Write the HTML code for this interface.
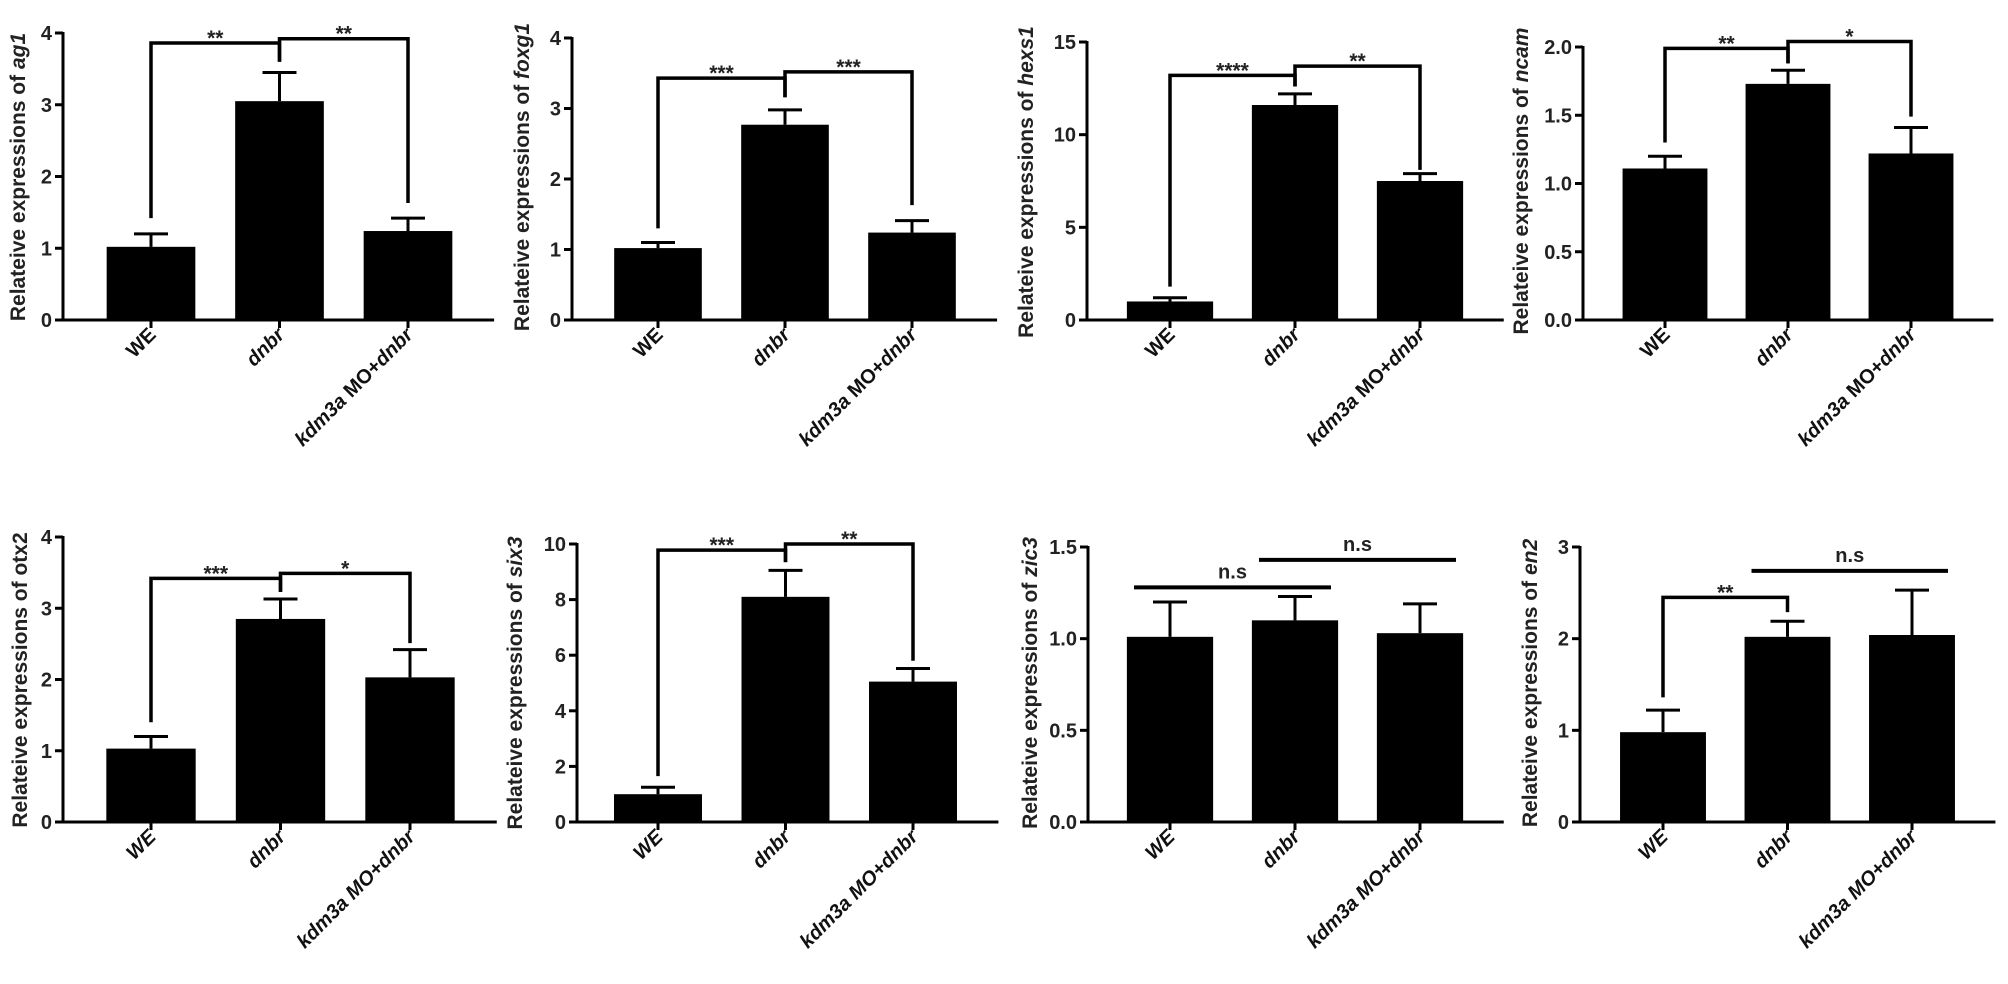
<!DOCTYPE html>
<html><head><meta charset="utf-8">
<style>
html,body{margin:0;padding:0;background:#fff;}
svg{display:block;font-family:"Liberation Sans",Arial,sans-serif;}
</style></head>
<body>
<svg id="fig" width="2008" height="984" viewBox="0 0 2008 984" xmlns="http://www.w3.org/2000/svg"></svg>
<script>
// ---- data ----
const categories = ["WE", "dnbr", "kdm3a MO+dnbr"];
const ag1Means = [1.02, 3.05, 1.24];   const ag1Errs = [0.18, 0.40, 0.18];
const foxg1Means = [1.02, 2.77, 1.24]; const foxg1Errs = [0.08, 0.21, 0.17];
const hexs1Means = [1.0, 11.6, 7.5];   const hexs1Errs = [0.2, 0.6, 0.4];
const ncamMeans = [1.11, 1.73, 1.22];  const ncamErrs = [0.09, 0.10, 0.19];
const otx2Means = [1.03, 2.85, 2.03];  const otx2Errs = [0.17, 0.28, 0.39];
const six3Means = [1.0, 8.1, 5.05];    const six3Errs = [0.25, 0.95, 0.47];
const zic3Means = [1.01, 1.10, 1.03];  const zic3Errs = [0.19, 0.13, 0.16];
const en2Means = [0.98, 2.02, 2.04];   const en2Errs = [0.24, 0.17, 0.49];
const ag1Ticks = ["0","1","2","3","4"];
const foxg1Ticks = ["0","1","2","3","4"];
const hexs1Ticks = ["0","5","10","15"];
const ncamTicks = ["0.0","0.5","1.0","1.5","2.0"];
const otx2Ticks = ["0","1","2","3","4"];
const six3Ticks = ["0","2","4","6","8","10"];
const zic3Ticks = ["0.0","0.5","1.0","1.5"];
const en2Ticks = ["0","1","2","3"];
// significance brackets: [fromIdx, toIdx, level, dropFrom, dropTo, label]
const ag1Sig = [[0,1,3.86,1.42,3.6,"**"],[1,2,3.92,3.6,1.63,"**"]];
const foxg1Sig = [[0,1,3.43,1.3,3.16,"***"],[1,2,3.52,3.16,1.63,"***"]];
const hexs1Sig = [[0,1,13.2,1.8,12.6,"****"],[1,2,13.7,12.6,8.1,"**"]];
const ncamSig = [[0,1,1.99,1.3,1.88,"**"],[1,2,2.04,1.88,1.49,"*"]];
const otx2Sig = [[0,1,3.42,1.4,3.23,"***"],[1,2,3.49,3.23,2.51,"*"]];
const six3Sig = [[0,1,9.78,1.65,9.35,"***"],[1,2,10.0,9.35,5.8,"**"]];
const zic3Sig = [];
const en2Sig = [[0,1,2.45,1.36,2.29,"**"]];
// n.s lines: [fromIdx, toIdx, level]
const zic3Ns = [[0,1,1.28],[1,2,1.43]];
const en2Ns = [[1,2,2.74]];

// ---- layout (pixels) ----
const panels = [
 {gene:"ag1",  gi:true, row:0, means:ag1Means, errs:ag1Errs, ticks:ag1Ticks, max:4, sig:ag1Sig, ns:[], x0:63, y0:320, yTop:33, off:88, band:128.5, tx:25, ty:177},
 {gene:"foxg1",gi:true, row:0, means:foxg1Means, errs:foxg1Errs, ticks:foxg1Ticks, max:4, sig:foxg1Sig, ns:[], x0:572, y0:320, yTop:38, off:86, band:127, tx:529, ty:177},
 {gene:"hexs1",gi:true, row:0, means:hexs1Means, errs:hexs1Errs, ticks:hexs1Ticks, max:15, sig:hexs1Sig, ns:[], x0:1087, y0:320, yTop:42, off:83, band:125, tx:1033, ty:182},
 {gene:"ncam", gi:true, row:0, means:ncamMeans, errs:ncamErrs, ticks:ncamTicks, max:2, sig:ncamSig, ns:[], x0:1583, y0:320, yTop:47, off:82, band:123, tx:1528, ty:181},
 {gene:"otx2", gi:false,row:1, means:otx2Means, errs:otx2Errs, ticks:otx2Ticks, max:4, sig:otx2Sig, ns:[], x0:63, y0:822, yTop:537, off:88, band:129.5, tx:27, ty:680},
 {gene:"six3", gi:true, row:1, means:six3Means, errs:six3Errs, ticks:six3Ticks, max:10, sig:six3Sig, ns:[], x0:577, y0:822, yTop:544, off:81, band:127.5, tx:522, ty:683},
 {gene:"zic3", gi:true, row:1, means:zic3Means, errs:zic3Errs, ticks:zic3Ticks, max:1.5, sig:zic3Sig, ns:zic3Ns, x0:1088, y0:822, yTop:547, off:82, band:125, tx:1037, ty:683},
 {gene:"en2",  gi:true, row:1, means:en2Means, errs:en2Errs, ticks:en2Ticks, max:3, sig:en2Sig, ns:en2Ns, x0:1580, y0:822, yTop:547, off:83, band:124.5, tx:1537, ty:683}
];

const NS = "http://www.w3.org/2000/svg";
const svg = document.getElementById("fig");
function mk(tag, attrs, parent){
  const e = document.createElementNS(NS, tag);
  for (const k in attrs) e.setAttribute(k, attrs[k]);
  (parent||svg).appendChild(e);
  return e;
}

panels.forEach(function(p){
  const g = mk("g", {});
  
  
  const yS = function(v){ return p.y0 - (v / p.max) * (p.y0 - p.yTop); };
  const xS = function(i){ return p.x0 + p.off + p.band * i; };
  const barW = p.band * 0.69;
  const xEnd = p.x0 + p.off + p.band * 2 + p.band * 0.67;

  // bars + error bars
  p.means.forEach(function(m, i){
    const cx = xS(i);
    const b = mk("rect", {x: cx - barW/2, y: yS(m), width: barW, height: p.y0 - yS(m), fill: "#000"}, g);
    
    
    const top = yS(m + p.errs[i]);
    const el = mk("path", {d: "M" + cx + " " + yS(m) + "V" + top + "M" + (cx - 17) + " " + top + "H" + (cx + 17), stroke: "#000", "stroke-width": 3, fill: "none"}, g);
    
    
  });

  // axes
  const ya = mk("line", {x1: p.x0, y1: p.yTop - 1, x2: p.x0, y2: p.y0, stroke: "#000", "stroke-width": 3}, g);
  
  
  const xa = mk("line", {x1: p.x0 - 1, y1: p.y0, x2: xEnd, y2: p.y0, stroke: "#000", "stroke-width": 3}, g);
  
  

  // y ticks
  p.ticks.forEach(function(t){
    const y = yS(parseFloat(t));
    mk("line", {x1: p.x0 - 8, y1: y, x2: p.x0, y2: y, stroke: "#000", "stroke-width": 3}, g);
    const tl = mk("text", {x: p.x0 - 11, y: y + 7, "text-anchor": "end", "font-size": 20, "font-weight": "bold", fill: "#222"}, g);
    tl.textContent = t;
    
    
  });

  // x ticks + labels
  categories.forEach(function(c, i){
    const cx = xS(i);
    mk("line", {x1: cx, y1: p.y0, x2: cx, y2: p.y0 + 8, stroke: "#000", "stroke-width": 3}, g);
    const lx = cx + 6, ly = p.y0 + 16;
    const t = mk("text", {x: lx, y: ly, "text-anchor": "end", "font-size": 20, "font-weight": "bold", fill: "#111", transform: "rotate(-45 " + lx + " " + ly + ")"}, g);
    
    
    const allIt = p.row === 1;
    if (i === 2) {
      const s1 = mk("tspan", {"font-style": "italic"}, t); s1.textContent = "kdm3a";
      const s2 = mk("tspan", {"font-style": allIt ? "italic" : "normal"}, t); s2.textContent = " MO+";
      const s3 = mk("tspan", {"font-style": "italic"}, t); s3.textContent = "dnbr";
    } else {
      t.textContent = c;
      if (i === 1 || allIt) t.setAttribute("font-style", "italic");
    }
  });

  // y title
  const yt = mk("text", {x: p.tx, y: p.ty, "text-anchor": "middle", "font-size": 21, "font-weight": "bold", fill: "#222", transform: "rotate(-90 " + p.tx + " " + p.ty + ")"}, g);
  
  
  const a = mk("tspan", {}, yt); a.textContent = "Relateive expressions of ";
  const b2 = mk("tspan", {"font-style": p.gi ? "italic" : "normal"}, yt); b2.textContent = p.gene;

  // significance brackets
  p.sig.forEach(function(s){
    const xa1 = xS(s[0]), xb1 = xS(s[1]), y = yS(s[2]);
    const br = mk("path", {d: "M" + xa1 + " " + yS(s[3]) + "V" + y + "H" + xb1 + "V" + yS(s[4]), stroke: "#000", "stroke-width": 3.5, fill: "none"}, g);
    
    
    const st = mk("text", {x: (xa1 + xb1) / 2, y: y + 2, "text-anchor": "middle", "font-size": 21, "font-weight": "bold", fill: "#222"}, g);
    st.textContent = s[5];
    
    
  });

  // n.s lines
  p.ns.forEach(function(s){
    const xa1 = xS(s[0]) - 36, xb1 = xS(s[1]) + 36, y = yS(s[2]);
    const ln = mk("line", {x1: xa1, y1: y, x2: xb1, y2: y, stroke: "#000", "stroke-width": 4}, g);
    
    
    const nt = mk("text", {x: (xa1 + xb1) / 2, y: y - 9, "text-anchor": "middle", "font-size": 20, "font-weight": "bold", fill: "#222"}, g);
    nt.textContent = "n.s";
    
    
  });
});
</script>
</body></html>
